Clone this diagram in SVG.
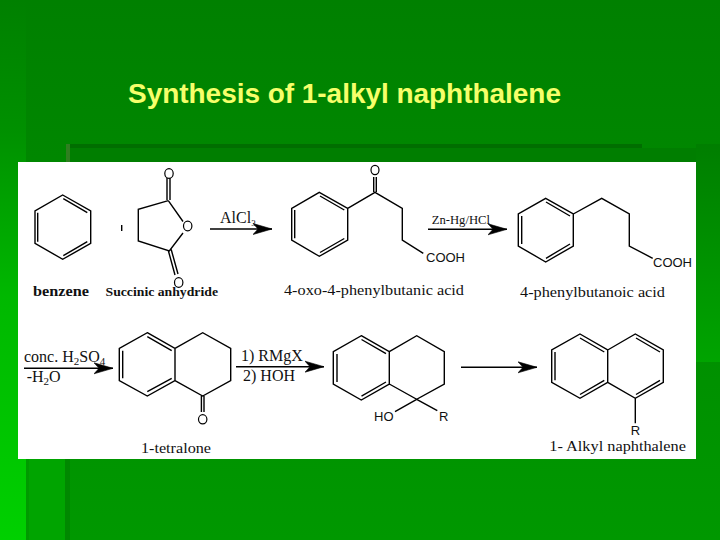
<svg xmlns="http://www.w3.org/2000/svg" width="720" height="540" viewBox="0 0 720 540">
<style>
.b{fill:none;stroke:#000;stroke-width:1.4;stroke-linejoin:miter;stroke-linecap:butt}
.a{fill:none;stroke:#000;stroke-width:1.5;marker-end:url(#ah)}
.s{font-family:"Liberation Serif","Times New Roman",serif;fill:#111}
.l{font-family:"Liberation Sans",Arial,sans-serif;fill:#111;font-size:13px}
.o{fill:#fff;stroke:#000;stroke-width:1.2}
</style>
<defs>
<linearGradient id="bg" x1="0" y1="0" x2="0" y2="1"><stop offset="0" stop-color="#008000"/><stop offset="1" stop-color="#009800"/></linearGradient>
<linearGradient id="ls" x1="0" y1="0" x2="0" y2="1"><stop offset="0" stop-color="#008000"/><stop offset="0.24" stop-color="#009000"/><stop offset="0.55" stop-color="#00b800"/><stop offset="1" stop-color="#00d000"/></linearGradient>
<linearGradient id="rs" x1="0" y1="0" x2="0" y2="1"><stop offset="0" stop-color="#007e00"/><stop offset="1" stop-color="#00a400"/></linearGradient>
<marker id="ah" markerUnits="userSpaceOnUse" markerWidth="20" markerHeight="14" refX="19" refY="7" orient="auto" viewBox="0 0 20 14"><path d="M0 1.5 L19 7 L0 12.5 L5 7 Z" fill="#000" stroke="#000" stroke-width="0.6"/></marker>
</defs>
<g id="background">
<rect width="720" height="540" fill="url(#bg)"/>
<rect x="0" y="0" width="26" height="540" fill="url(#ls)"/>
<rect x="26" y="459" width="40" height="81" fill="#00a400"/>
<rect x="26" y="459" width="3" height="81" fill="#009a00"/>
<rect x="65" y="459" width="5" height="81" fill="#008800"/>
<rect x="66" y="144" width="576" height="4" fill="#006e00"/>
<rect x="66" y="148" width="654" height="14" fill="#007e00"/>
<rect x="66" y="144" width="4" height="18" fill="#2f7f20"/>
<rect x="696" y="144" width="24" height="218" fill="url(#rs)"/>
</g>
<text id="title" x="128" y="102.7" textLength="433" lengthAdjust="spacing" font-family="Liberation Sans, Arial, sans-serif" font-weight="700" font-size="28" fill="#f6ff6a">Synthesis of 1-alkyl naphthalene</text>
<rect id="panel" x="18" y="162" width="678" height="297" fill="#fff"/>
<g id="connectors">
<path class="a" d="M210 229H272"/>
<path class="a" d="M428 229.3H507"/>
<path class="a" d="M24 368.3H113"/>
<path class="a" d="M236 366.7H324"/>
<path class="a" d="M461 367.3H537"/>
</g>
<g id="benzene">
<path class="b" d="M62.7 195L90.7 211V243.3L62.7 259.3L35 243.3V211Z M37.7 212.7V241.7 M63.3 198.7L87.3 212.7 M63.3 255.7L87.3 241.7"/>
<text class="s" x="33" y="295.7" font-size="15" font-weight="700" textLength="56" lengthAdjust="spacingAndGlyphs">benzene</text>
</g>
<g id="plus"><path class="b" d="M121.7 225V231"/></g>
<g id="succinic-anhydride">
<path class="b" d="M168.3 200.7L138.3 209.3V241L169.3 251L183 233 M168.3 200.7L183 221.5 M167 200V178 M170 200V178 M168.3 250.5L175 275 M171.2 249.5L178 274"/>
<ellipse class="o" cx="169" cy="173.5" rx="4.2" ry="4.8"/>
<ellipse class="o" cx="187.7" cy="226" rx="4.2" ry="4.8"/>
<ellipse class="o" cx="178.7" cy="282.5" rx="4.2" ry="4.8"/>
<text class="s" x="105.5" y="296" font-size="13" font-weight="700" textLength="112.5" lengthAdjust="spacingAndGlyphs">Succinic anhydride</text>
</g>
<g id="alcl3"><text class="s" x="220" y="223" font-size="16" fill="#222">AlCl<tspan font-size="9" dy="3">3</tspan></text></g>
<g id="oxo-acid">
<path class="b" d="M319.3 192.3L347.7 208.3V240L319.3 256.3L291.7 240V208.3Z M294.7 210V238.3 M320 196L344.3 210 M320 252.5L344.3 238.5 M347.7 208.3L375 192.3L402.3 208.3V240L423.3 253.3 M373.7 192V177 M376.3 192V177"/>
<ellipse class="o" cx="375" cy="170" rx="4" ry="4.6"/>
<text class="l" x="426" y="261.7">COOH</text>
<text class="s" x="284" y="295" font-size="14" textLength="180" lengthAdjust="spacingAndGlyphs">4-oxo-4-phenylbutanic acid</text>
</g>
<g id="zn-hg"><text class="s" x="431.7" y="224" font-size="12" textLength="58.3" lengthAdjust="spacingAndGlyphs" fill="#333">Zn-Hg/HCl</text></g>
<g id="phenylbutanoic-acid">
<path class="b" d="M545.7 198.3L573.3 214V246L545.7 262L518.3 246V214Z M521.7 216V244 M546 202L570 216 M546 258.3L570 244 M573.3 214L601.7 198.3L629.3 214V246L652.7 258.3"/>
<text class="l" x="653" y="267">COOH</text>
<text class="s" x="520" y="297" font-size="14" textLength="145" lengthAdjust="spacingAndGlyphs">4-phenylbutanoic acid</text>
</g>
<g id="h2so4">
<text class="s" x="24" y="361.7" font-size="16">conc. H<tspan font-size="11" dy="3">2</tspan><tspan dy="-3">SO</tspan><tspan font-size="11" dy="3">4</tspan></text>
<text class="s" x="26.7" y="381.7" font-size="16">-H<tspan font-size="11" dy="3">2</tspan><tspan dy="-3">O</tspan></text>
</g>
<g id="tetralone">
<path class="b" d="M147.3 332.7L175 348.3V380.7L147.3 396L119.3 380.7V348.3Z M122.7 350.7V378.3 M147.3 336.7L171.7 350.7 M147.3 391.7L171.7 378.3 M175 348.3L202.7 332.7L230.7 348.3V380.7L202.7 396L175 380.7 M201.4 396V412 M204 396V412"/>
<ellipse class="o" cx="202.7" cy="419.3" rx="4.2" ry="4.6"/>
<text class="s" x="141" y="452.7" font-size="14" textLength="70" lengthAdjust="spacingAndGlyphs">1-tetralone</text>
</g>
<g id="rmgx">
<text class="s" x="241" y="361" font-size="16">1) RMgX</text>
<text class="s" x="243" y="380.7" font-size="16">2) HOH</text>
</g>
<g id="alcohol">
<path class="b" d="M361.3 335.7L389.3 351.7V384L361.3 400L333.3 384V351.7Z M337 354V382 M361.5 339.5L386 353.7 M361.5 396.2L386 382 M389.3 351.7L416.7 335.7L444.3 351.7V384L416.7 399.3L389.3 384 M416.7 399.3L395 411.7 M416.7 399.3L437.3 410.7"/>
<text class="l" x="374" y="421">HO</text>
<text class="l" x="439" y="421">R</text>
</g>
<g id="naphthalene">
<path class="b" d="M580 334L607.7 350V382.3L580 398.3L551.7 382.3V350Z M555 352V380.3 M580 338L604.3 352 M580 394.5L604.3 380.3 M607.7 350L635.3 334L663.3 350V382.3L635.3 398.3L607.7 382.3 M636 338L660 352 M636 394.5L660 380.3 M635.3 398.3V423.3"/>
<text class="l" x="630.7" y="435">R</text>
<text class="s" x="549.3" y="450.7" font-size="14" textLength="136.7" lengthAdjust="spacingAndGlyphs">1- Alkyl naphthalene</text>
</g>
</svg>
